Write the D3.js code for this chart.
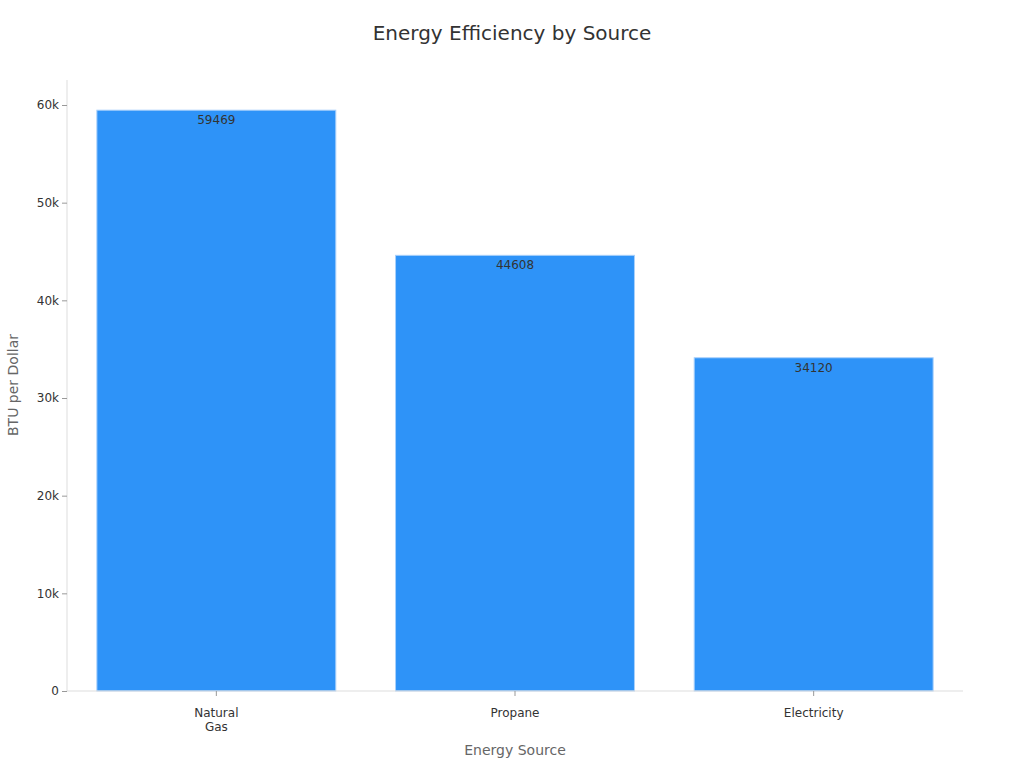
<!DOCTYPE html>
<html><head><meta charset="utf-8">
<script src="https://cdn.jsdelivr.net/npm/d3@7"></script>
<style>body{margin:0;background:#fff;font-family:"DejaVu Sans",sans-serif;}</style>
</head><body><svg id="chart" width="1024" height="768"></svg>
<script>
var categories = ["Natural Gas", "Propane", "Electricity"];
var values = [59469, 44608, 34120];
var yTicks = [0, 10000, 20000, 30000, 40000, 50000, 60000];

var svg = d3.select("#chart");
var plotLeft = 67, plotRight = 963, plotTop = 80, plotBottom = 691;

var x = d3.scaleBand().domain(categories).range([plotLeft, plotRight]).paddingInner(0.2).paddingOuter(0.1);
var y = d3.scaleLinear().domain([0, 62560]).range([plotBottom, plotTop]);

svg.append("text").attr("x", 512).attr("y", 40).attr("text-anchor", "middle")
	.style("font-size", "20px").style("fill", "#333").text("Energy Efficiency by Source");

svg.selectAll("rect.bar").data(values).enter().append("rect")
	.attr("class", "bar")
	.attr("x", function(d, i) { return x(categories[i]); })
	.attr("y", function(d) { return y(d); })
	.attr("width", x.bandwidth())
	.attr("height", function(d) { return plotBottom - y(d); })
	.style("fill", "#2e93f8").style("stroke", "#a9d0fb").style("stroke-width", 1);

svg.selectAll("text.val").data(values).enter().append("text")
	.attr("x", function(d, i) { return x(categories[i]) + x.bandwidth() / 2; })
	.attr("y", function(d) { return y(d) + 14; })
	.attr("text-anchor", "middle").style("font-size", "12px").style("fill", "#333")
	.text(function(d) { return d; });

var yAxis = svg.append("g").attr("transform", "translate(" + plotLeft + ",0)")
	.call(d3.axisLeft(y).tickValues(yTicks).tickSize(5).tickFormat(function(d) { return d === 0 ? "0" : d / 1000 + "k"; }));
yAxis.select(".domain").attr("d", "M0," + plotTop + "V" + plotBottom).style("stroke", "#ddd");
yAxis.selectAll(".tick line").style("stroke", "#999");
yAxis.selectAll(".tick text").style("font-size", "12px").style("fill", "#333").style("font-family", "DejaVu Sans");

var xAxis = svg.append("g").attr("transform", "translate(0," + plotBottom + ")")
	.call(d3.axisBottom(x).tickSize(5).tickPadding(12));
xAxis.select(".domain").attr("d", "M" + plotLeft + ",0H" + plotRight).style("stroke", "#ddd");
xAxis.selectAll(".tick line").style("stroke", "#999");
xAxis.selectAll(".tick text").style("font-size", "12px").style("fill", "#333").style("font-family", "DejaVu Sans")
	.each(function(d) {
		var t = d3.select(this);
		if (d === "Natural Gas") {
			t.text(null);
			t.append("tspan").attr("x", 0).attr("dy", "0.71em").text("Natural");
			t.append("tspan").attr("x", 0).attr("dy", "1.2em").text("Gas");
			t.attr("dy", null);
		}
	});

svg.append("text").attr("x", 515).attr("y", 755).attr("text-anchor", "middle")
	.style("font-size", "14px").style("fill", "#666").text("Energy Source");
svg.append("text").attr("transform", "translate(18,385) rotate(-90)").attr("text-anchor", "middle")
	.style("font-size", "14px").style("fill", "#666").text("BTU per Dollar");
</script></body></html>
